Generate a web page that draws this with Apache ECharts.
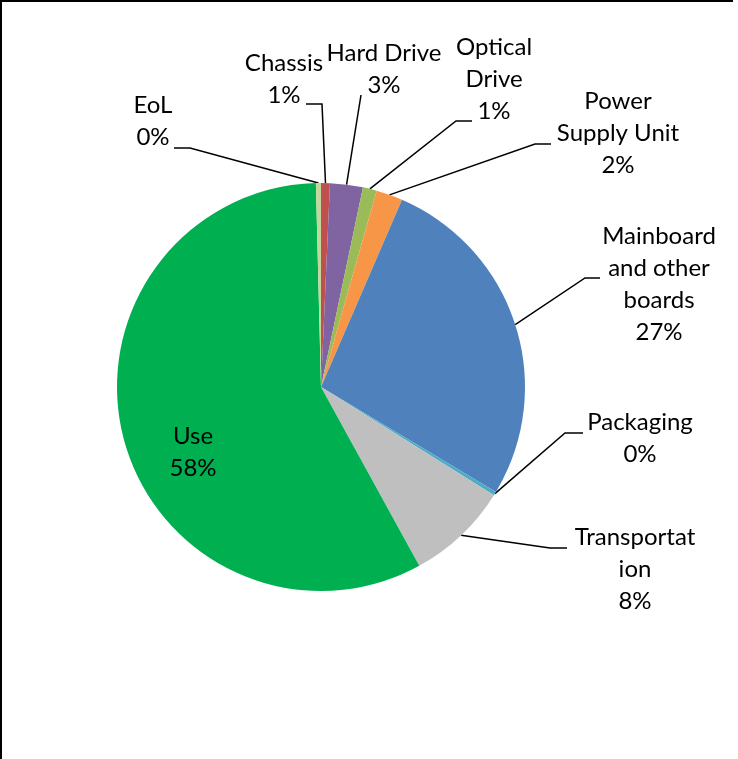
<!DOCTYPE html>
<html>
<head>
<meta charset="utf-8">
<script src="https://cdn.jsdelivr.net/npm/echarts@6/dist/echarts.min.js"></script>
<style>
  html, body { margin: 0; padding: 0; background: #fff; }
  #main { width: 738px; height: 759px; }
</style>
</head>
<body>
<div id="main"></div>
<script>
// slices, clockwise from 12 o'clock (share of total, %)
var categories = ['Chassis', 'Hard Drive', 'Optical Drive', 'Power Supply Unit',
  'Mainboard and other boards', 'Packaging', 'Transportation', 'Use', 'EoL'];
var shares = [0.7, 2.6, 1.1, 2.1, 27.1, 0.3, 8.1, 57.6, 0.4];
// how Excel wrapped the category names
var wrapped = ['Chassis', 'Hard Drive', 'Optical\nDrive', 'Power\nSupply Unit',
  'Mainboard\nand other\nboards', 'Packaging', 'Transportat\nion', 'Use', 'EoL'];
var colors = ['#C0504D', '#8064A2', '#9BBB59', '#F79646', '#4F81BD',
  '#4BACC6', '#BFBFBF', '#00B050', '#C3D69B'];

// label placement: text centre x, top y, leader bend + end (null = straight line)
var labelPos = [
  { x: 284, y: 47,  bend: [322, 104], end: [306, 104] },
  { x: 384, y: 37,  bend: null,       end: [361, 95] },
  { x: 494, y: 31,  bend: [456, 121], end: [472, 121] },
  { x: 618, y: 85,  bend: [535, 144], end: [551, 144] },
  { x: 659, y: 220, bend: [585, 278], end: [600, 278] },
  { x: 640, y: 406, bend: [565, 433], end: [583, 433] },
  { x: 635, y: 521, bend: [550, 548], end: [567, 548] },
  { x: 193, y: 420, bend: null,       end: null },
  { x: 153, y: 89,  bend: [190, 148], end: [174, 148] }
];

var chart = echarts.init(document.getElementById('main'));

var data = categories.map(function (name, i) {
  var d = { name: name, value: shares[i], itemStyle: { color: colors[i] } };
  if (name === 'Use') {
    d.label = { position: 'inside' };
    d.labelLine = { show: false };
  }
  return d;
});

chart.setOption({
  animation: false,
  backgroundColor: '#fff',
  graphic: [
    { type: 'line', shape: { x1: 0, y1: 1, x2: 733, y2: 1 }, style: { stroke: '#000', lineWidth: 2 } },
    { type: 'line', shape: { x1: 1, y1: 0, x2: 1, y2: 759 }, style: { stroke: '#000', lineWidth: 2 } }
  ],
  series: [{
    type: 'pie',
    center: [321, 387],
    radius: 204,
    startAngle: 90,
    clockwise: true,
    avoidLabelOverlap: false,
    data: data,
    itemStyle: { borderWidth: 0 },
    label: {
      show: true,
      position: 'outside',
      color: '#000',
      fontFamily: 'Lato',
      fontSize: 24,
      lineHeight: 32,
      align: 'center',
      formatter: function (p) {
        return wrapped[p.dataIndex] + '\n' + Math.round(p.percent) + '%';
      }
    },
    labelLine: {
      show: true,
      length: 0,
      length2: 0,
      lineStyle: { color: '#000', width: 1.5 }
    },
    emphasis: { disabled: true },
    labelLayout: function (params) {
      var lp = labelPos[params.dataIndex];
      var out = { x: lp.x, y: lp.y, align: 'center', verticalAlign: 'top' };
      if (lp.end && params.labelLinePoints) {
        var start = params.labelLinePoints[0];
        var bend = lp.bend || lp.end;
        out.labelLinePoints = [start, bend, lp.end];
      }
      return out;
    }
  }]
});
</script>
</body>
</html>
